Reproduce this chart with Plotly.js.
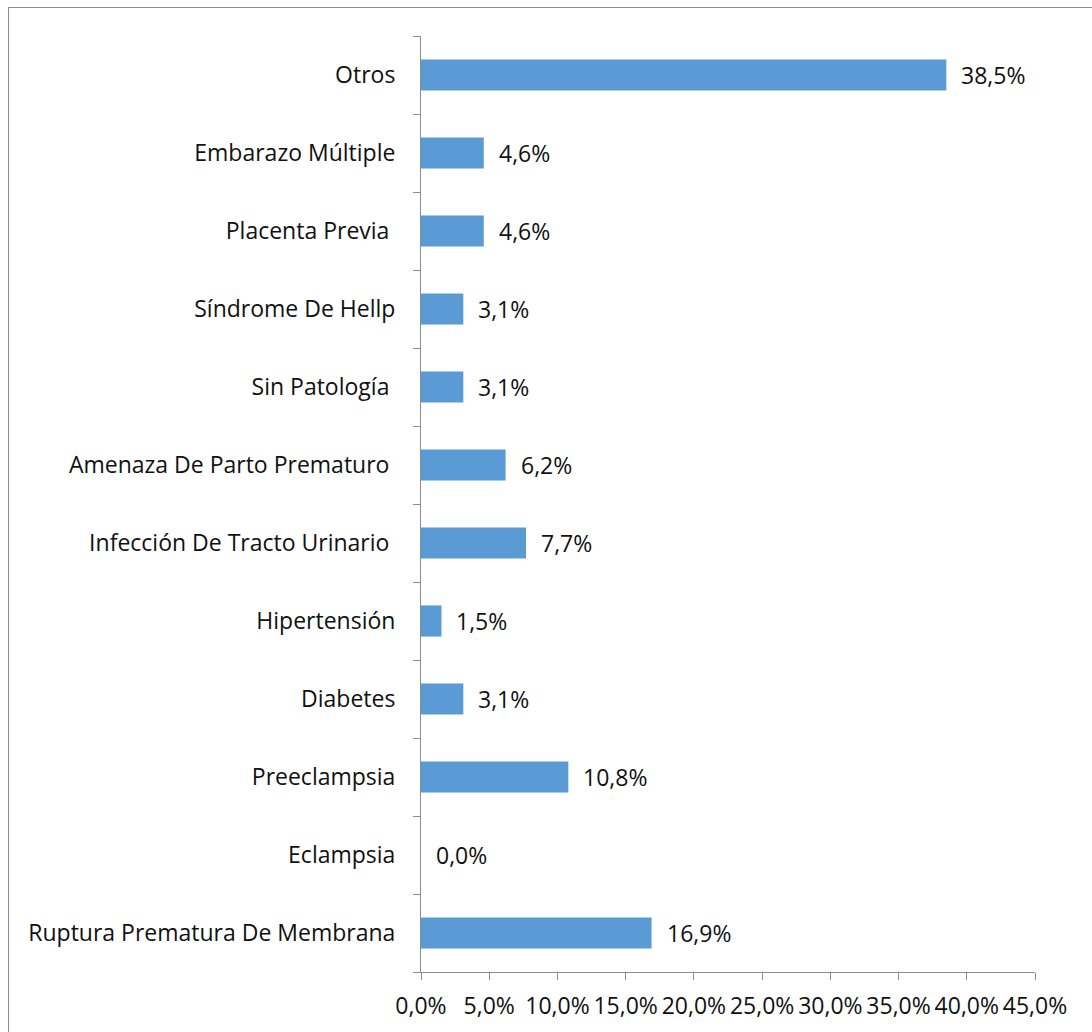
<!DOCTYPE html>
<html>
<head>
<meta charset="utf-8">
<script src="https://cdn.plot.ly/plotly-3.0.1.min.js"></script>
<style>
  html, body { margin: 0; padding: 0; background: #fff; }
  #wrap { position: relative; width: 1092px; height: 1032px; overflow: hidden; }
  #frame { position: absolute; left: 8px; top: 7px; width: 1200px; height: 1200px; border-left: 1px solid #8c8c8c; border-top: 1px solid #8c8c8c; pointer-events: none; }
  #chart { position: absolute; left: 0; top: 0; width: 1092px; height: 1032px; }
</style>
</head>
<body>
<div id="wrap">
  <div id="chart"></div>
  <div id="frame"></div>
</div>
<script>
const categories = [
  "Ruptura Prematura De Membrana",
  "Eclampsia",
  "Preeclampsia",
  "Diabetes",
  "Hipertensión",
  "Infección De Tracto Urinario\u00a0",
  "Amenaza De Parto Prematuro\u00a0",
  "Sin Patología\u00a0",
  "Síndrome De Hellp",
  "Placenta Previa\u00a0",
  "Embarazo Múltiple",
  "Otros"
];
const values = [16.9, 0.0, 10.8, 3.1, 1.5, 7.7, 6.2, 3.1, 3.1, 4.6, 4.6, 38.5];
const xTicks = [0, 5, 10, 15, 20, 25, 30, 35, 40, 45];

const fontFam = "'Open Sans', 'Noto Sans', 'DejaVu Sans', sans-serif";
const fontSize = 23;

const trace = {
  type: 'bar',
  orientation: 'h',
  y: categories,
  x: values,
  marker: { color: '#5B9BD5', line: { width: 0 } },
  hoverinfo: 'skip'
};

const annotations = values.map((v, i) => ({
  x: v, y: categories[i], xref: 'x', yref: 'y',
  text: v.toFixed(1).replace('.', ',') + '%',
  showarrow: false, xanchor: 'left', yanchor: 'middle', xshift: 13,
  font: { family: fontFam, size: fontSize, color: '#111111' }
}));

const layout = {
  width: 1092, height: 1032,
  margin: { l: 421, r: 57, t: 36, b: 60, pad: 0 },
  paper_bgcolor: 'rgba(0,0,0,0)',
  plot_bgcolor: 'rgba(0,0,0,0)',
  showlegend: false,
  bargap: 0.6,
  separators: ',.',
  font: { family: fontFam, size: fontSize, color: '#111111' },
  xaxis: {
    range: [0, 45],
    tickvals: xTicks,
    ticktext: xTicks.map(t => t.toFixed(1).replace('.', ',') + '%'),
    showgrid: false, zeroline: false,
    showline: true, linecolor: '#8c8c8c', linewidth: 1,
    ticks: 'outside', ticklen: 7, tickcolor: '#8c8c8c', tickwidth: 1,
    ticklabelstandoff: 6,
    tickfont: { family: fontFam, size: fontSize, color: '#111111' },
    fixedrange: true
  },
  yaxis: {
    type: 'category',
    categoryorder: 'array', categoryarray: categories,
    showgrid: false, zeroline: false,
    showline: true, linecolor: '#8c8c8c', linewidth: 1,
    ticks: 'outside', ticklen: 7, tickcolor: '#8c8c8c', tickwidth: 1,
    tickson: 'boundaries',
    ticklabelstandoff: 20,
    tickfont: { family: fontFam, size: fontSize, color: '#111111' },
    fixedrange: true
  },
  annotations: annotations
};

Plotly.newPlot('chart', [trace], layout, { displayModeBar: false, staticPlot: true });
</script>
</body>
</html>
